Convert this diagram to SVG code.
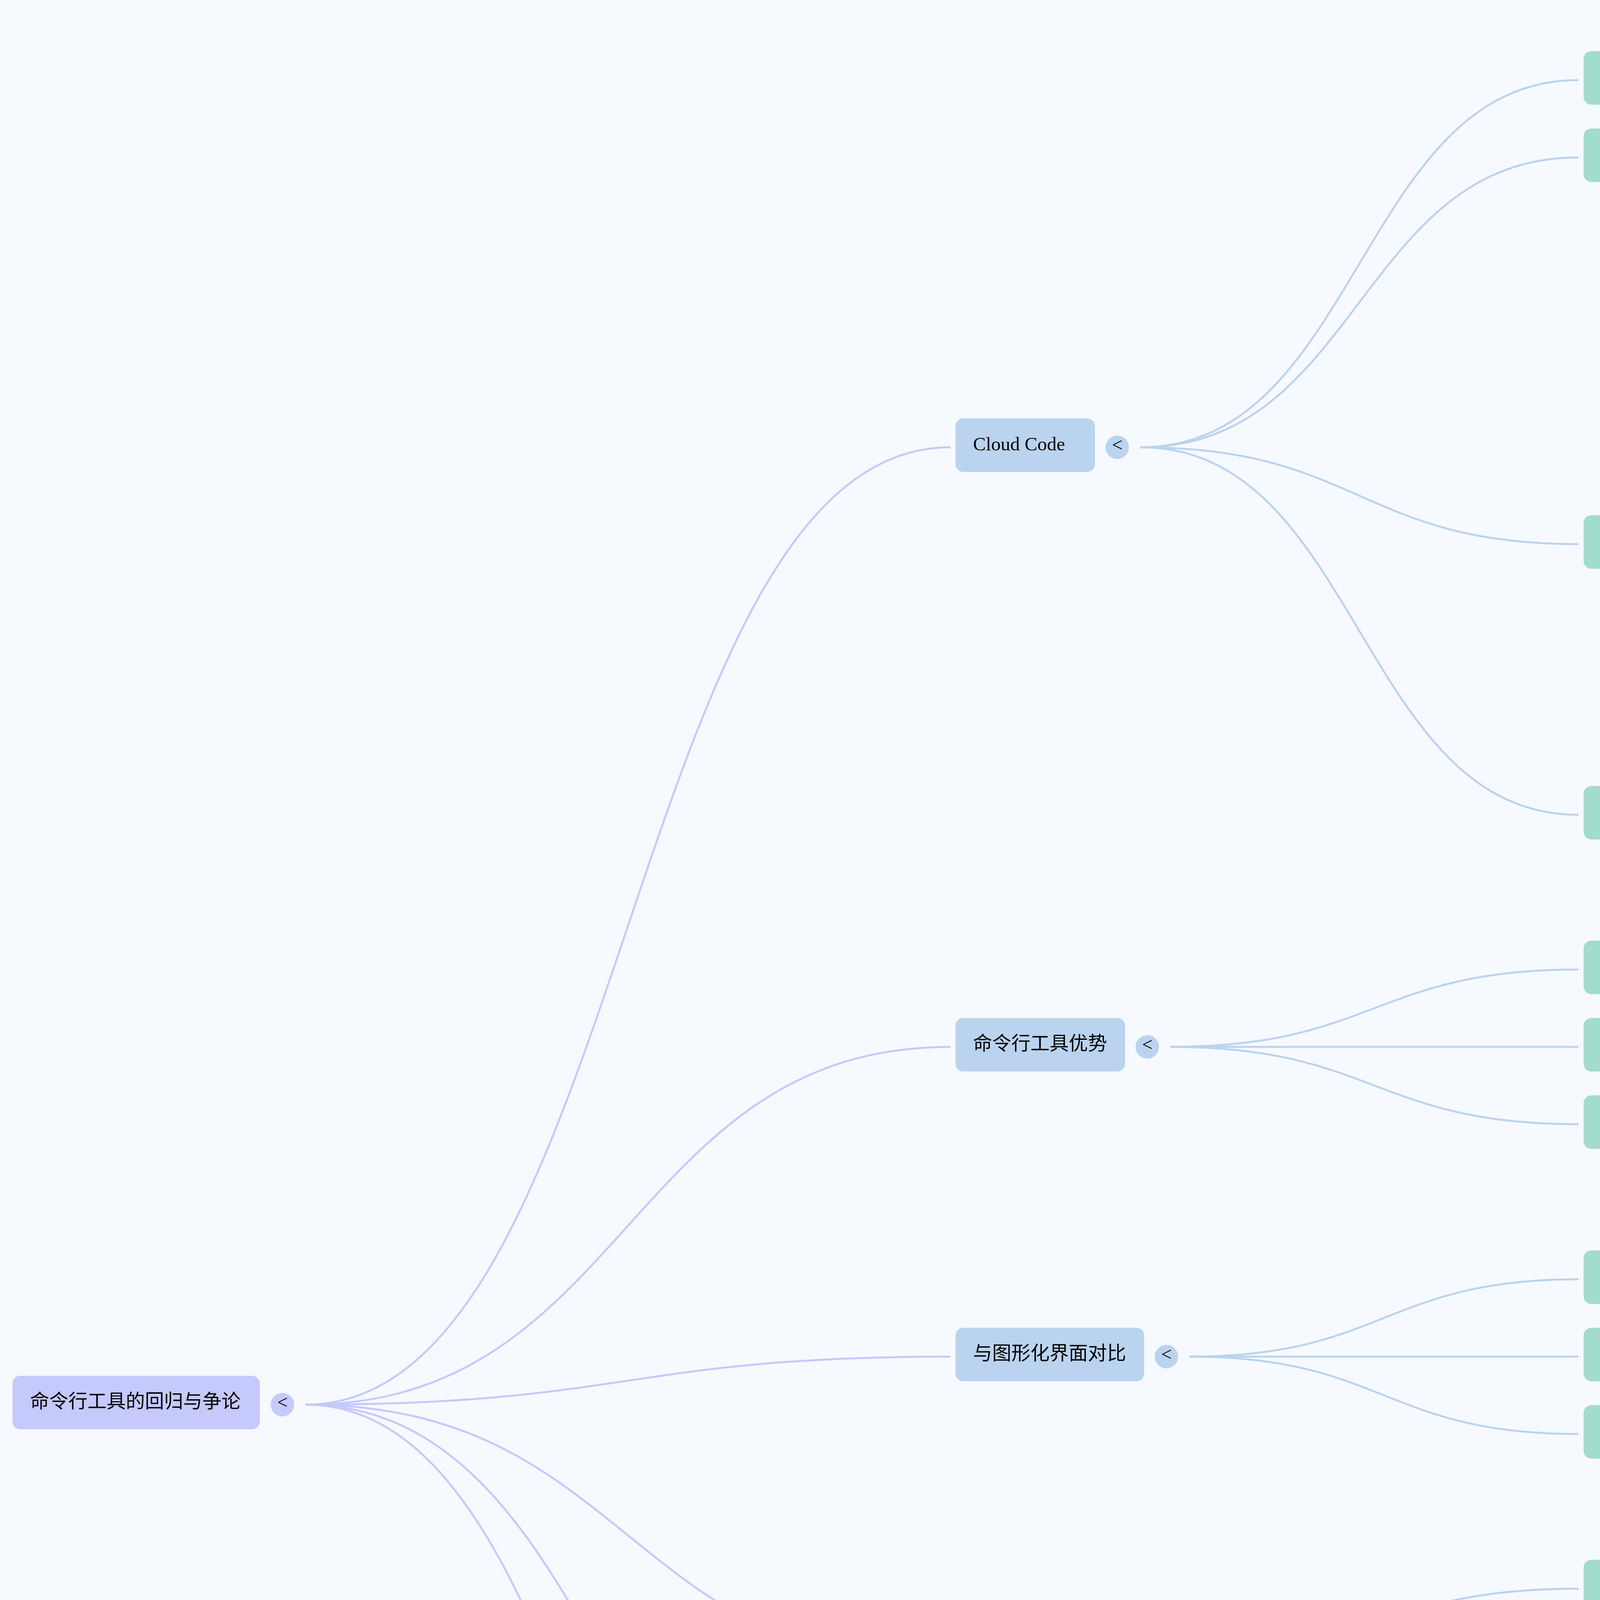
<svg xmlns="http://www.w3.org/2000/svg" width="6414" height="6337" viewBox="0 0 6414 6337">
<style>
.t{font-family:"Liberation Serif","Noto Sans CJK SC",serif;font-size:49px;fill:#000}
.tg{font-family:"Liberation Serif",serif;font-size:48px;fill:#000;text-anchor:middle}
.n0{fill:#c5c9fc}
.n1{fill:#bad3ef}
.n2{fill:#a2dcce}
.n3{fill:#9deebe}
.e{fill:none;stroke-width:5;stroke-linecap:butt}
.e0{stroke:#c5c9fc}
.e1{stroke:#bad3ef}
.e2{stroke:#a2dcce}
</style>
<rect x="0" y="0" width="6414" height="6337" fill="#f6f9fe"/>
<g id="connectors">
<path class="e e0" d="M782 3596 C1607.5 3596 1607.5 1145 2433 1145"/>
<path class="e e0" d="M782 3596 C1607.5 3596 1607.5 2680 2433 2680"/>
<path class="e e0" d="M782 3596 C1607.5 3596 1607.5 3473 2433 3473"/>
<path class="e e0" d="M782 3596 C1607.5 3596 1607.5 4265 2433 4265"/>
<path class="e e0" d="M782 3596 C1607.5 3596 1607.5 5156 2433 5156"/>
<path class="e e0" d="M782 3596 C1607.5 3596 1607.5 6046 2433 6046"/>
<path class="e e1" d="M2919 1145 C3480 1145 3480 205 4041 205"/>
<path class="e e1" d="M2919 1145 C3480 1145 3480 403 4041 403"/>
<path class="e e1" d="M2919 1145 C3480 1145 3480 1393 4041 1393"/>
<path class="e e1" d="M2919 1145 C3480 1145 3480 2086 4041 2086"/>
<path class="e e1" d="M2996 2680 C3518.5 2680 3518.5 2482 4041 2482"/>
<path class="e e1" d="M2996 2680 C3518.5 2680 3518.5 2680 4041 2680"/>
<path class="e e1" d="M2996 2680 C3518.5 2680 3518.5 2878 4041 2878"/>
<path class="e e1" d="M3045 3473 C3543 3473 3543 3275 4041 3275"/>
<path class="e e1" d="M3045 3473 C3543 3473 3543 3473 4041 3473"/>
<path class="e e1" d="M3045 3473 C3543 3473 3543 3671 4041 3671"/>
<path class="e e1" d="M2947 4265 C3494 4265 3494 4067 4041 4067"/>
<path class="e e1" d="M2947 4265 C3494 4265 3494 4265 4041 4265"/>
<path class="e e1" d="M2947 4265 C3494 4265 3494 4463 4041 4463"/>
<path class="e e1" d="M2996 5156 C3518.5 5156 3518.5 4859 4041 4859"/>
<path class="e e1" d="M2996 5156 C3518.5 5156 3518.5 5057 4041 5057"/>
<path class="e e1" d="M2996 5156 C3518.5 5156 3518.5 5255 4041 5255"/>
<path class="e e1" d="M2996 5156 C3518.5 5156 3518.5 5453 4041 5453"/>
<path class="e e1" d="M2947 6046 C3494 6046 3494 5848 4041 5848"/>
<path class="e e1" d="M2947 6046 C3494 6046 3494 6046 4041 6046"/>
<path class="e e1" d="M2947 6046 C3494 6046 3494 6244 4041 6244"/>
<path class="e e2" d="M4359 403 C5003.5 403 5003.5 106 5648 106"/>
<path class="e e2" d="M4359 403 C5003.5 403 5003.5 304 5648 304"/>
<path class="e e2" d="M4359 403 C5003.5 403 5003.5 502 5648 502"/>
<path class="e e2" d="M4359 403 C5003.5 403 5003.5 700 5648 700"/>
<path class="e e2" d="M4408 1393 C5028 1393 5028 1096 5648 1096"/>
<path class="e e2" d="M4408 1393 C5028 1393 5028 1294 5648 1294"/>
<path class="e e2" d="M4408 1393 C5028 1393 5028 1492 5648 1492"/>
<path class="e e2" d="M4408 1393 C5028 1393 5028 1690 5648 1690"/>
<path class="e e2" d="M4457 2086 C5052.5 2086 5052.5 2086 5648 2086"/>
<path class="e e2" d="M4522 4463 C5085 4463 5085 4265 5648 4265"/>
<path class="e e2" d="M4522 4463 C5085 4463 5085 4463 5648 4463"/>
<path class="e e2" d="M4522 4463 C5085 4463 5085 4661 5648 4661"/>
</g>
<g id="root">
<rect class="n0" x="32" y="3522" width="633" height="137" rx="20"/>
<text class="t" x="77" y="3604">命令行工具的回归与争论</text>
<circle class="n0" cx="723" cy="3596" r="30"/><text class="tg" x="723" y="3606">&lt;</text>
</g>
<g id="cloud-code">
<rect class="n1" x="2446" y="1071" width="357" height="137" rx="20"/>
<text class="t" x="2491" y="1153">Cloud Code</text>
<circle class="n1" cx="2860" cy="1145" r="30"/><text class="tg" x="2860" y="1155">&lt;</text>
</g>
<g id="cli-advantages">
<rect class="n1" x="2446" y="2606" width="434" height="137" rx="20"/>
<text class="t" x="2491" y="2688">命令行工具优势</text>
<circle class="n1" cx="2937" cy="2680" r="30"/><text class="tg" x="2937" y="2690">&lt;</text>
</g>
<g id="gui-compare">
<rect class="n1" x="2446" y="3399" width="483" height="137" rx="20"/>
<text class="t" x="2491" y="3481">与图形化界面对比</text>
<circle class="n1" cx="2986" cy="3473" r="30"/><text class="tg" x="2986" y="3483">&lt;</text>
</g>
<g id="alternatives">
<rect class="n1" x="2446" y="4191" width="385" height="137" rx="20"/>
<text class="t" x="2491" y="4273">替代品与兼容</text>
<circle class="n1" cx="2888" cy="4265" r="30"/><text class="tg" x="2888" y="4275">&lt;</text>
</g>
<g id="user-mindset">
<rect class="n1" x="2446" y="5082" width="434" height="137" rx="20"/>
<text class="t" x="2491" y="5164">用户心态与选择</text>
<circle class="n1" cx="2937" cy="5156" r="30"/><text class="tg" x="2937" y="5166">&lt;</text>
</g>
<g id="tech-trend">
<rect class="n1" x="2446" y="5972" width="385" height="137" rx="20"/>
<text class="t" x="2491" y="6054">技术发展趋势</text>
<circle class="n1" cx="2888" cy="6046" r="30"/><text class="tg" x="2888" y="6056">&lt;</text>
</g>
<g id="terminal-tool">
<rect class="n2" x="4054" y="131" width="581" height="137" rx="20"/>
<text class="t" x="4099" y="213">集成在终端的编程工具</text>
</g>
<g id="pros">
<rect class="n2" x="4054" y="329" width="189" height="137" rx="20"/>
<text class="t" x="4099" y="411">优点</text>
<circle class="n2" cx="4300" cy="403" r="30"/><text class="tg" x="4300" y="413">&lt;</text>
</g>
<g id="controversy">
<rect class="n2" x="4054" y="1319" width="238" height="137" rx="20"/>
<text class="t" x="4099" y="1401">争议点</text>
<circle class="n2" cx="4349" cy="1393" r="30"/><text class="tg" x="4349" y="1403">&lt;</text>
</g>
<g id="base-model">
<rect class="n2" x="4054" y="2012" width="287" height="137" rx="20"/>
<text class="t" x="4099" y="2094">底层模型</text>
<circle class="n2" cx="4398" cy="2086" r="30"/><text class="tg" x="4398" y="2096">&lt;</text>
</g>
<g id="batch-tasks">
<rect class="n2" x="4054" y="2408" width="483" height="137" rx="20"/>
<text class="t" x="4099" y="2490">高效执行批量任务</text>
</g>
<g id="workflow">
<rect class="n2" x="4054" y="2606" width="385" height="137" rx="20"/>
<text class="t" x="4099" y="2688">自动化工作流</text>
</g>
<g id="flexibility">
<rect class="n2" x="4054" y="2804" width="532" height="137" rx="20"/>
<text class="t" x="4099" y="2886">强大的功能和灵活性</text>
</g>
<g id="dos">
<rect class="n2" x="4054" y="3201" width="389" height="137" rx="20"/>
<text class="t" x="4099" y="3283">DOS时代回顾</text>
</g>
<g id="windows">
<rect class="n2" x="4054" y="3399" width="492" height="137" rx="20"/>
<text class="t" x="4099" y="3481">Windows的普及性</text>
</g>
<g id="user-habits">
<rect class="n2" x="4054" y="3597" width="385" height="137" rx="20"/>
<text class="t" x="4099" y="3679">大众用户习惯</text>
</g>
<g id="google-genie">
<rect class="n2" x="4054" y="3993" width="418" height="137" rx="20"/>
<text class="t" x="4099" y="4075">谷歌 Genie CLI</text>
</g>
<g id="bytedance">
<rect class="n2" x="4054" y="4191" width="385" height="137" rx="20"/>
<text class="t" x="4099" y="4273">字节跳动工具</text>
</g>
<g id="kimi">
<rect class="n2" x="4054" y="4389" width="352" height="137" rx="20"/>
<text class="t" x="4099" y="4471">Kimi KR模型</text>
<circle class="n2" cx="4463" cy="4463" r="30"/><text class="tg" x="4463" y="4473">&lt;</text>
</g>
<g id="rational">
<rect class="n2" x="4054" y="4785" width="434" height="137" rx="20"/>
<text class="t" x="4099" y="4867">理性看待新工具</text>
</g>
<g id="needs">
<rect class="n2" x="4054" y="4983" width="483" height="137" rx="20"/>
<text class="t" x="4099" y="5065">根据实际需求选择</text>
</g>
<g id="curious">
<rect class="n2" x="4054" y="5181" width="532" height="137" rx="20"/>
<text class="t" x="4099" y="5263">保持好奇和开放心态</text>
</g>
<g id="no-anxiety">
<rect class="n2" x="4054" y="5379" width="434" height="137" rx="20"/>
<text class="t" x="4099" y="5461">避免不必要焦虑</text>
</g>
<g id="cycle">
<rect class="n2" x="4054" y="5774" width="336" height="137" rx="20"/>
<text class="t" x="4099" y="5856">潮流的轮回</text>
</g>
<g id="advanced-users">
<rect class="n2" x="4054" y="5972" width="385" height="137" rx="20"/>
<text class="t" x="4099" y="6054">高阶用户需求</text>
</g>
<g id="acceptance">
<rect class="n2" x="4054" y="6170" width="385" height="137" rx="20"/>
<text class="t" x="4099" y="6252">大众接受程度</text>
</g>
<g id="lightweight">
<rect class="n3" x="5661" y="32" width="434" height="137" rx="20"/>
<text class="t" x="5706" y="114">轻量，启动迅速</text>
</g>
<g id="easy-integrate">
<rect class="n3" x="5661" y="230" width="483" height="137" rx="20"/>
<text class="t" x="5706" y="312">易于集成开发流程</text>
</g>
<g id="direct-control">
<rect class="n3" x="5661" y="428" width="581" height="137" rx="20"/>
<text class="t" x="5706" y="510">直接控制，自动化任务</text>
</g>
<g id="smart-assist">
<rect class="n3" x="5661" y="626" width="434" height="137" rx="20"/>
<text class="t" x="5706" y="708">智能化辅助功能</text>
</g>
<g id="for-devs">
<rect class="n3" x="5661" y="1022" width="630" height="137" rx="20"/>
<text class="t" x="5706" y="1104">面向开发者，非大众用户</text>
</g>
<g id="gui-compare-2">
<rect class="n3" x="5661" y="1220" width="483" height="137" rx="20"/>
<text class="t" x="5706" y="1302">与图形化界面对比</text>
</g>
<g id="overhyped">
<rect class="n3" x="5661" y="1418" width="434" height="137" rx="20"/>
<text class="t" x="5706" y="1500">出圈被过度宣传</text>
</g>
<g id="anxiety">
<rect class="n3" x="5661" y="1616" width="483" height="137" rx="20"/>
<text class="t" x="5706" y="1698">可能造成用户焦虑</text>
</g>
<g id="cloud-four">
<rect class="n3" x="5661" y="2012" width="338" height="137" rx="20"/>
<text class="t" x="5706" y="2094">Cloud Four</text>
</g>
<g id="anthropic-api">
<rect class="n3" x="5661" y="4191" width="492" height="137" rx="20"/>
<text class="t" x="5706" y="4273">兼容Anthropic API</text>
</g>
<g id="install-domestic">
<rect class="n3" x="5661" y="4389" width="553" height="137" rx="20"/>
<text class="t" x="5706" y="4471">国内安装Cloud Code</text>
</g>
<g id="switch-kimi">
<rect class="n3" x="5661" y="4587" width="382" height="137" rx="20"/>
<text class="t" x="5706" y="4669">切换Kimi模式</text>
</g>
</svg>
